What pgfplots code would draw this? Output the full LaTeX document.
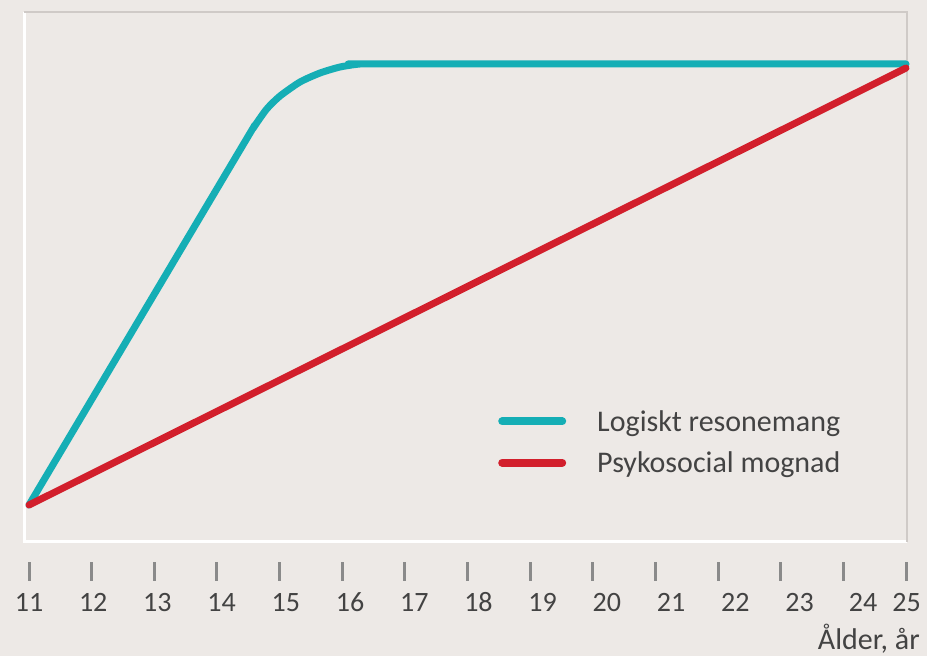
\documentclass[border=0pt]{standalone}
\usepackage{pgfplots}
\pgfplotsset{compat=1.18}
\usepackage{fontspec}
\setmainfont{Carlito}
\definecolor{bgcol}{HTML}{EDE9E6}
\definecolor{logik}{HTML}{15AEB5}
\definecolor{psyk}{HTML}{D21F2C}
\definecolor{txt}{HTML}{434343}
\definecolor{tickc}{HTML}{8A8A8A}
\definecolor{framec}{HTML}{CFCAC7}

\begin{document}
\begin{tikzpicture}
\useasboundingbox (0,0) rectangle (927pt,656pt);
\fill[bgcol] (0,0) rectangle (927pt,656pt);
\begin{axis}[
    at={(24pt,114pt)}, anchor=south west,
    scale only axis, width=883pt, height=530pt,
    xmin=10.92, xmax=25.016, ymin=0, ymax=530,
    clip=false,
    axis line style={draw=none},
    ytick=\empty,
    xtick={11,...,25}, xticklabels={},
    xtick pos=bottom,
    tick align=outside,
    major tick length=19pt,
    xtick style={draw=tickc, line width=3pt, yshift=-20pt},
    extra x ticks={11,12.025,13.05,14.075,15.1,16.125,17.15,18.175,19.2,20.225,21.25,22.275,23.3,24.314,25.01},
    extra x tick labels={11,12,13,14,15,16,17,18,19,20,21,22,23,24,25},
    extra x tick style={major tick length=0pt,
        xticklabel style={anchor=base, inner sep=0pt, yshift=-70pt,
            font=\fontsize{28pt}{34pt}\selectfont, text=txt}},
    xlabel={Ålder, år},
    xlabel style={at={(axis description cs:1,0)}, anchor=base east,
        inner sep=0pt, xshift=13pt, yshift=-107pt,
        font=\fontsize{30pt}{36pt}\selectfont, text=txt},
    legend style={at={(axis cs:18.487,132)}, anchor=north west,
        draw=none, fill=none, inner sep=0pt, row sep=19pt,
        nodes={inner sep=0pt},
        font=\fontsize{30pt}{36pt}\selectfont, text=txt},
    legend cell align=left,
    legend image code/.code={
        \draw[#1, line width=8pt, line cap=round] (4pt,0pt) -- (64pt,0pt);
        \path[draw=none] (0pt,0pt) -- (99pt,0pt);},
]
% frame: white left/bottom, grey top/right
\draw[white, line width=3pt] (rel axis cs:0,1) -- (rel axis cs:0,0) -- (rel axis cs:1,0);
\draw[framec, line width=2.5pt] (rel axis cs:0,1) -- (rel axis cs:1,1) -- (rel axis cs:1,0);

\addplot[logik, line width=7pt, line cap=round, line join=round, smooth, tension=0.4]
    coordinates {(11,37)(14.368,392)(14.581,414)(14.795,433)(15.007,446)(15.326,460)
                 (15.646,469)(15.965,475)(16.284,478)(16.603,478)(25,478)};
\addlegendentry{Logiskt resonemang}
\addplot[psyk, line width=7pt, line cap=round]
    coordinates {(11,37)(25,474)};
\addlegendentry{Psykosocial mognad}
\end{axis}
\end{tikzpicture}
\end{document}
